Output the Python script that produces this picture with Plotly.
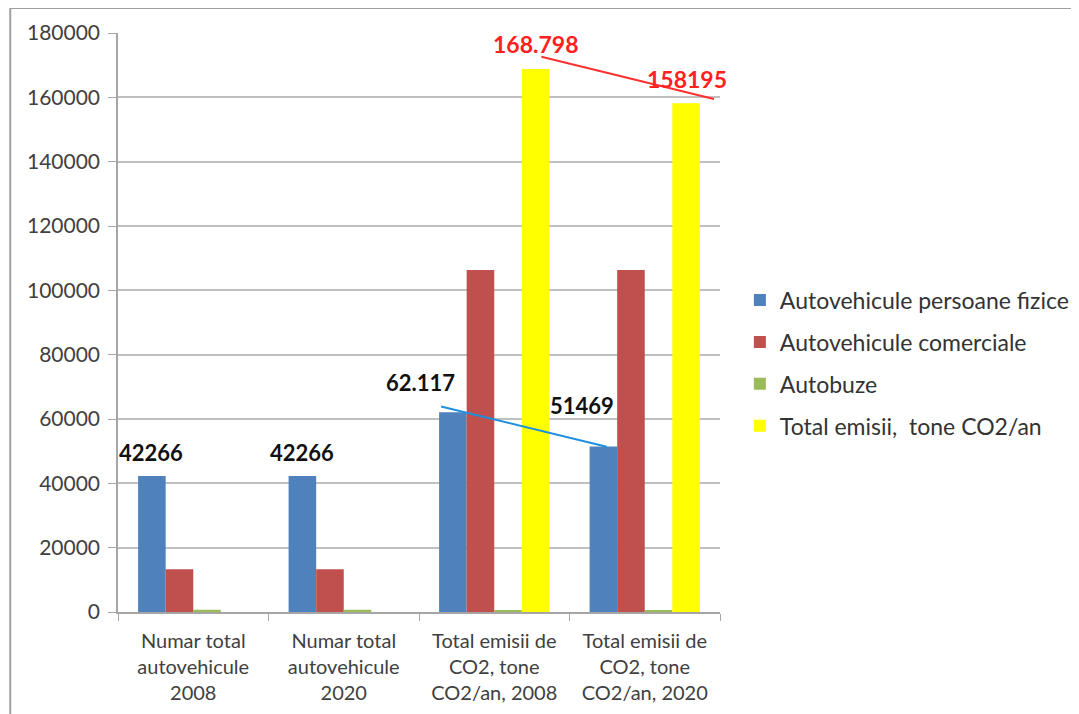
import plotly.graph_objects as go

categories = [
    "Numar total<br>autovehicule<br>2008",
    "Numar total<br>autovehicule<br>2020",
    "Total emisii de<br>CO2, tone<br>CO2/an, 2008",
    "Total emisii de<br>CO2, tone<br>CO2/an, 2020",
]
series_names = [
    "Autovehicule persoane fizice",
    "Autovehicule comerciale",
    "Autobuze",
    "Total emisii,  tone CO2/an",
]
persoane_fizice = [42266, 42266, 62117, 51469]
comerciale = [13300, 13300, 106300, 106300]
autobuze = [700, 700, 600, 600]
total_emisii = [0, 0, 168798, 158195]
colors = ["#4F81BD", "#C0504D", "#9BBB59", "#FFFF00"]

y_ticks = list(range(0, 180001, 20000))

# data labels (text as in the original)
label_black = [("42266", -0.28, 49500), ("42266", 0.72, 49500),
               ("62.117", 1.51, 71300), ("51469", 2.58, 64200)]
label_red = [("168.798", 2.28, 176600), ("158195", 3.28, 165700)]

FONT = "Lato, 'Open Sans', sans-serif"

fig = go.Figure()
for name, vals, col in zip(series_names, [persoane_fizice, comerciale, autobuze, total_emisii], colors):
    fig.add_trace(go.Bar(x=categories, y=vals, name=name, marker_color=col,
                         marker_line_width=0, legendgroup=name))

ann = []
for t, x, y in label_black:
    ann.append(dict(x=x, y=y, text="<b>%s</b>" % t, showarrow=False, xref="x", yref="y",
                    font=dict(family=FONT, size=22, color="#111111")))
for t, x, y in label_red:
    ann.append(dict(x=x, y=y, text="<b>%s</b>" % t, showarrow=False, xref="x", yref="y",
                    font=dict(family=FONT, size=23, color="#FF2020")))

shapes = [
    dict(type="line", xref="x", yref="y", x0=2.313, y0=172600, x1=3.46, y1=159500,
         line=dict(color="#FF3030", width=2)),
    dict(type="line", xref="x", yref="y", x0=1.647, y0=63900, x1=2.747, y1=51400,
         line=dict(color="#1E90E0", width=2)),
    dict(type="rect", xref="paper", yref="paper", x0=-0.179, y0=-0.25, x1=1.65, y1=1.043,
         line=dict(color="#A0A0A0", width=2), fillcolor="rgba(0,0,0,0)", layer="below"),
]

fig.update_layout(
    width=1079, height=714,
    margin=dict(l=110, r=367, t=25, b=110),
    paper_bgcolor="white", plot_bgcolor="white",
    barmode="group", bargap=0.267, bargroupgap=0,
    font=dict(family=FONT, size=18, color="#404040"),
    showlegend=True,
    legend=dict(x=1.033, y=0.43, xanchor="left", yanchor="middle",
                font=dict(family=FONT, size=23, color="#333333"),
                tracegroupgap=9, traceorder="grouped", bgcolor="rgba(0,0,0,0)"),
    annotations=ann, shapes=shapes,
    xaxis=dict(type="category", showline=True, linecolor="#A6A6A6", linewidth=1.5,
               ticks="outside", tickson="boundaries", ticklen=7, tickcolor="#A6A6A6",
               ticklabelstandoff=10,
               tickfont=dict(family=FONT, size=20, color="#404040"), showgrid=False,
               range=[-0.5, 3.5]),
    yaxis=dict(range=[0, 180000], tickvals=y_ticks, ticktext=[str(v) for v in y_ticks],
               showgrid=True, gridcolor="#C0C0C0", gridwidth=1.5,
               showline=True, linecolor="#A6A6A6", linewidth=1.5,
               ticks="outside", ticklen=8, tickcolor="#A6A6A6", ticklabelstandoff=4,
               tickfont=dict(family=FONT, size=21, color="#404040"), zeroline=False),
)

fig.write_html("out.html")
